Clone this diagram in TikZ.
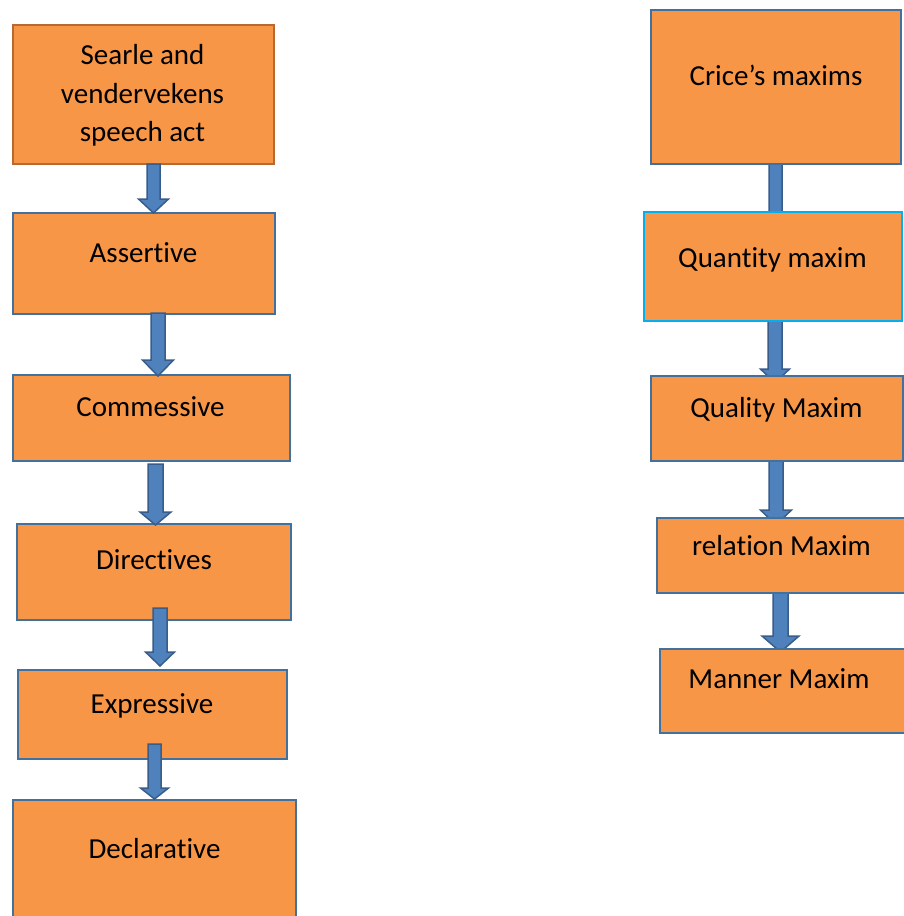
\documentclass[tikz,border=0pt]{standalone}
\usepackage{fontspec}
\setmainfont{Carlito}[RawFeature={-liga;-clig;-calt;-dlig}]
\usetikzlibrary{calc}
\definecolor{boxfill}{HTML}{F79646}
\definecolor{boxline}{HTML}{41719C}
\definecolor{searleline}{HTML}{B7692F}
\definecolor{cyanline}{HTML}{00B0F0}
\definecolor{arrfill}{HTML}{4F81BD}
\definecolor{arrline}{HTML}{385D8A}
\newcommand\tiNoLig{t\kern0pt i}
\pgfdeclarelayer{background}
\pgfsetlayers{background,main}
\tikzset{
  box/.style={draw=boxline, fill=boxfill, line width=2pt, rectangle, inner sep=0pt, outer sep=0pt},
  txt/.style={inner sep=0pt, anchor=base, font=\fontsize{29}{38.5}\selectfont},
  arr/.style={draw=arrline, fill=arrfill, line width=1.5pt, line join=miter}
}
\newcommand\boxat[6]{%
  \node[box,#6, minimum width={(#4-#2)*1pt}, minimum height={(#5-#3)*1pt}, anchor=north west] (#1) at (#2,#3) {};}
% #1 src #2 tgt #3 x #4 start dy #5 tip dy #6 shaft half #7 head half #8 head length
\newcommand\blockarr[8]{%
  \draw[arr] let \p1=(#1.south), \p2=(#2.north) in
   ({(#3-#6)*1pt},{\y1-(#4)*1pt}) -- ({(#3+#6)*1pt},{\y1-(#4)*1pt})
   -- ({(#3+#6)*1pt},{\y2-(#5)*1pt+(#8)*1pt}) -- ({(#3+#7)*1pt},{\y2-(#5)*1pt+(#8)*1pt})
   -- ({#3*1pt},{\y2-(#5)*1pt}) -- ({(#3-#7)*1pt},{\y2-(#5)*1pt+(#8)*1pt})
   -- ({(#3-#6)*1pt},{\y2-(#5)*1pt+(#8)*1pt}) -- cycle;}
\begin{document}
\begin{tikzpicture}[x=1pt,y=-1pt]
\useasboundingbox (0,0) rectangle (904,916);
% left column
\boxat{l1}{12.5}{25}{274}{164}{draw=searleline}
\boxat{l2}{12.5}{213}{275}{314}{}
\boxat{l3}{12.5}{375}{290}{461}{}
\boxat{l4}{16.5}{524}{291}{620}{}
\boxat{l5}{17.5}{670}{287}{759}{}
\boxat{l6}{12.5}{800}{296}{930}{}
% right column
\boxat{r1}{651}{10}{901}{164}{}
\boxat{r2}{644}{212}{902}{321}{draw=cyanline}
\boxat{r3}{650.5}{376}{903}{461}{}
\boxat{r4}{657}{518}{910}{593}{}
\boxat{r5}{660}{649}{910}{733}{}
% texts
\node[txt, align=center] (t1) at (142.5,141.7) {Searle and\\vendervekens\\speech act};
\node[txt] (t2) at (143.5,262) {Asser\tiNoLig ve};
\node[txt] (t3) at (150.5,416.5) {Commessive};
\node[txt] (t4) at (154,569) {Direc\tiNoLig ves};
\node[txt] (t5) at (152,713) {Expressive};
\node[txt] (t6) at (154.5,858) {Declara\tiNoLig ve};
\node[txt] (u1) at (776,85) {Crice’s maxims};
\node[txt] (u2) at (772.5,267) {Quan\tiNoLig ty maxim};
\node[txt] (u3) at (776.5,417) {Quality Maxim};
\node[txt] (u4) at (781.5,555) {relation Maxim};
\node[txt] (u5) at (779,688) {Manner Maxim};
% left arrows (on top)
\blockarr{l1}{l2}{153.5}{0}{0}{6.5}{15}{14}
\blockarr{l2}{l3}{158}{-1}{1}{7}{15.5}{16}
\blockarr{l3}{l4}{155.5}{3}{1}{7.5}{15.5}{13}
\blockarr{l4}{l5}{160}{-12}{-4}{7}{14.5}{14}
\blockarr{l5}{l6}{154.5}{-15}{-1}{6.5}{14}{11}
% right arrows (under the boxes)
\begin{pgfonlayer}{background}
\fill[white] (0,0) rectangle (904,916);
\blockarr{r1}{r2}{775.5}{-2}{16}{6.5}{15}{14}
\blockarr{r2}{r3}{775}{0}{7}{7}{14.5}{14}
\blockarr{r3}{r4}{776}{-6}{7}{7}{15.5}{15}
\blockarr{r4}{r5}{780.5}{0}{3}{7.5}{18.5}{16}
\end{pgfonlayer}
\end{tikzpicture}
\end{document}
